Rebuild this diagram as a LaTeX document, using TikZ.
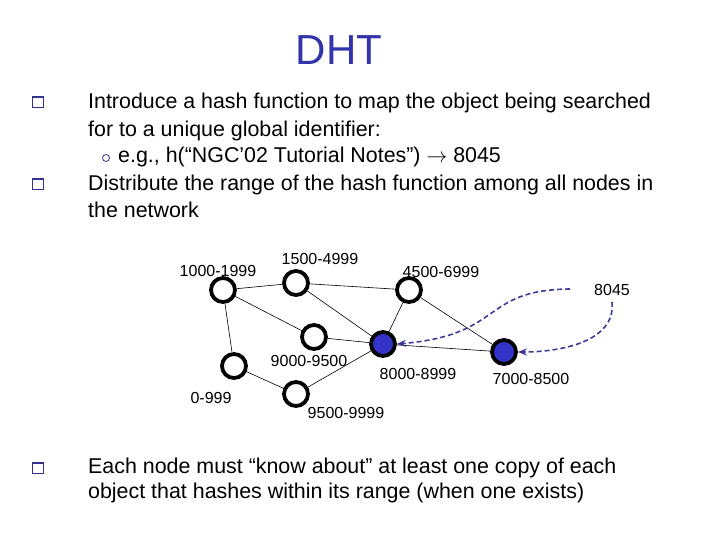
\documentclass[tikz,border=0pt]{standalone}
\usepackage{fontspec}
\setmainfont{Liberation Sans}
\usetikzlibrary{arrows.meta}
\definecolor{titleblue}{RGB}{51,51,170}
\definecolor{nodeblue}{RGB}{51,51,200}
\definecolor{arrowblue}{RGB}{60,60,150}
\definecolor{bulletblue}{RGB}{50,50,140}
\tikzset{
  peer/.style={circle,draw=black,line width=3.8pt,minimum size=24pt,inner sep=0pt,fill=white},
  hot/.style={peer,fill=nodeblue},
  lbl/.style={font=\fontsize{16}{18}\selectfont,inner sep=0pt},
  body/.style={font=\fontsize{21.4}{24}\selectfont,anchor=west,inner sep=0pt},
  edge/.style={line width=0.6pt},
  sq/.style={draw=bulletblue,line width=1pt,minimum width=11pt,minimum height=10pt,inner sep=0pt},
  circ/.style={circle,draw=bulletblue,line width=0.8pt,minimum size=7pt,inner sep=0pt},
  hop/.style={arrowblue,line width=1.6pt,dash pattern=on 5pt off 3pt,-{Stealth[length=9pt,width=7pt]}}
}
\begin{document}
\begin{tikzpicture}[x=1pt,y=-1pt]
\useasboundingbox (0,0) rectangle (720,540);
\node[font=\fontsize{42}{46}\selectfont,text=titleblue,inner sep=0pt] (title) at (339,50) {DHT};
% bullets
\node[sq] (b1) at (38,103) {};
\draw[bulletblue,line width=2pt] (b1.north west) -- (b1.north east);
\node[body] (l1) at (88,103) {Introduce a hash function to map the object being searched};
\node[body] (l2) at (88,131) {for to a unique global identifier:};
\node[circ] (c1) at (106,158) {};
\node[body] (l3) at (118,157) {e.g., h(“NGC’02 Tutorial Notes”) $\rightarrow$ 8045};
\node[sq] (b2) at (38,185) {};
\draw[bulletblue,line width=2pt] (b2.north west) -- (b2.north east);
\node[body] (l4) at (88,185) {Distribute the range of the hash function among all nodes in};
\node[body] (l5) at (88,210) {the network};
\node[sq] (b3) at (38,468) {};
\draw[bulletblue,line width=2pt] (b3.north west) -- (b3.north east);
\node[body] (l6) at (88,468) {Each node must “know about” at least one copy of each};
\node[body] (l7) at (88,493) {object that hashes within its range (when one exists)};
% peers
\node[peer] (n1000) at (223,290) {};
\node[peer] (n1500) at (296,283) {};
\node[peer] (n4500) at (409,290) {};
\node[peer] (n9000) at (314,337) {};
\node[hot]  (n8000) at (383,344) {};
\node[peer] (n0) at (234,366) {};
\node[peer] (n9500) at (296,394) {};
\node[hot]  (n7000) at (504,352) {};
% edges
\draw[edge] (n1000) -- (n1500);
\draw[edge] (n1500) -- (n4500);
\draw[edge] (n1000) -- (n9000);
\draw[edge] (n1000) -- (n0);
\draw[edge] (n1500) -- (n8000);
\draw[edge] (n4500) -- (n8000);
\draw[edge] (n9000) -- (n8000);
\draw[edge] (n0) -- (n9500);
\draw[edge] (n9500) -- (n8000);
\draw[edge] (n4500) -- (n7000);
\draw[edge] (n8000) -- (n7000);
% labels
\node[lbl] (t1000) at (218,271) {1000-1999};
\node[lbl] (t1500) at (320,259) {1500-4999};
\node[lbl] (t4500) at (441,272) {4500-6999};
\node[lbl] (t9000) at (309,361) {9000-9500};
\node[lbl] (t8000) at (418,374) {8000-8999};
\node[lbl] (t0) at (211,398) {0-999};
\node[lbl] (t9500) at (346,413) {9500-9999};
\node[lbl] (t7000) at (531,379) {7000-8500};
\node[lbl] (key) at (612,290) {8045};
% lookups
\coordinate (s1) at (570,289);
\coordinate (s2) at (612,302);
\draw[hop] (s1) .. controls (480,290) and (505,335) .. (n8000.east);
\draw[hop] (s2) .. controls (616,342) and (560,352) .. (n7000.east);
\end{tikzpicture}
\end{document}
